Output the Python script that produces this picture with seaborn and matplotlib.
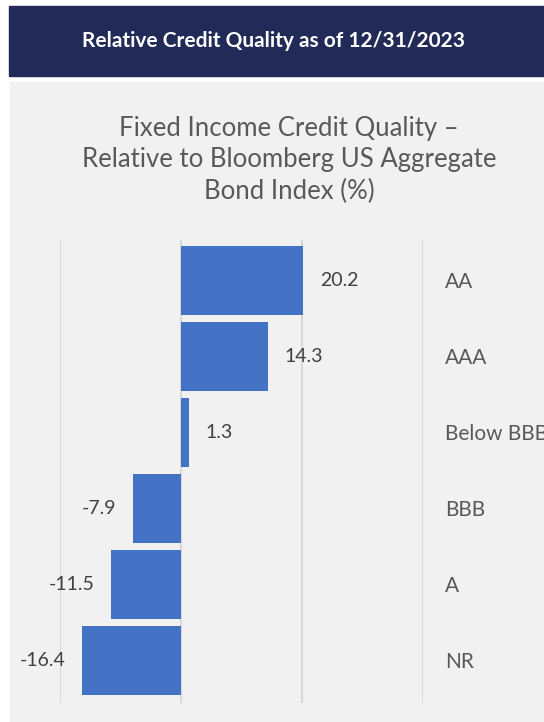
import matplotlib
matplotlib.use("Agg")
import matplotlib.pyplot as plt
import seaborn as sns
import pandas as pd
from matplotlib.patches import Rectangle

# data
ratings = ["AA", "AAA", "Below BBB", "BBB", "A", "NR"]
relative_pct = [20.2, 14.3, 1.3, -7.9, -11.5, -16.4]
x_ticks = [-20, 0, 20, 40]

BLUE = "#4472C4"
NAVY = "#222B58"
PANEL = "#F1F1F1"
TXT = "#595959"

sns.set_theme(style="white")
plt.rcParams["font.family"] = ["Lato", "DejaVu Sans"]

W, H = 544, 722
fig = plt.figure(figsize=(W / 100, H / 100), dpi=100)
fig.patch.set_facecolor("white")

# banner + grey panel behind the chart
fig.patches.append(Rectangle((9 / W, 1 - 76 / H), (W - 9) / W, 70 / H,
                             transform=fig.transFigure, color=NAVY, zorder=-2))
fig.patches.append(Rectangle((10 / W, 0), (W - 10) / W, 1 - 82 / H,
                             transform=fig.transFigure, color=PANEL, zorder=-2))
fig.text(274 / W, 1 - 41 / H, "Relative Credit Quality as of 12/31/2023",
         color="white", fontsize=15, fontweight="bold", ha="center", va="center")
fig.text(289 / W, 1 - 160 / H,
         "Fixed Income Credit Quality \u2013\nRelative to Bloomberg US Aggregate\nBond Index (%)",
         color=TXT, fontsize=18.5, ha="center", va="center", linespacing=1.32)

df = pd.DataFrame({"rating": ratings, "value": relative_pct})

ax = fig.add_axes([60 / W, 19 / H, (423 - 60) / W, (703 - 240) / H])
ax.set_zorder(2)
ax.set_facecolor("none")
sns.barplot(data=df, x="value", y="rating", orient="h", color=BLUE,
            width=0.9, saturation=1, ax=ax, zorder=3, linewidth=0)

ax.set_xlim(-20, 40)
ax.set_ylim(5.56, -0.53)
ax.set_xticks(x_ticks)
ax.set_xticklabels([])
ax.tick_params(axis="x", length=0)
ax.set_axisbelow(True)
ax.xaxis.grid(True, color="#D9D9D9", linewidth=1.5)
ax.yaxis.grid(False)
for s in ax.spines.values():
    s.set_visible(False)

ax.yaxis.tick_right()
ax.tick_params(axis="y", length=0, pad=16, labelsize=15, labelcolor=TXT)
for lbl in ax.get_yticklabels():
    lbl.set_ha("left")
    lbl.set_clip_on(False)
ax.set_xlabel("")
ax.set_ylabel("")

ax.bar_label(ax.containers[0], fmt="%.1f", padding=12, fontsize=14, color="#404040")

fig.savefig("out.png", dpi=100)
